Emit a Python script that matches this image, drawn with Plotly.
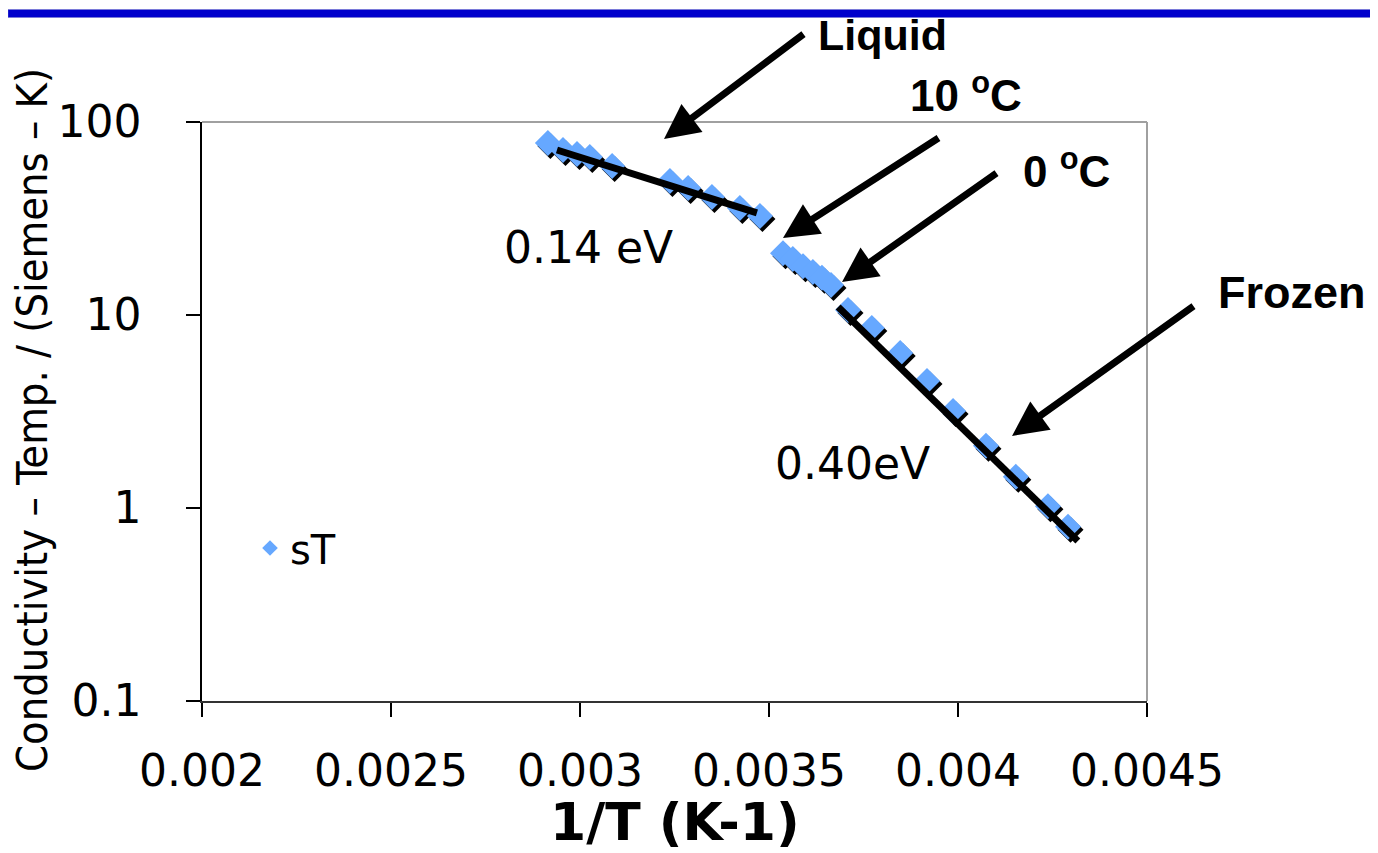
import plotly.graph_objects as go

# ---------------- data ----------------
inv_T = [0.002915, 0.002955, 0.002992, 0.003026, 0.003085, 0.003238, 0.003286,
         0.003349, 0.003423, 0.003476,
         0.003537, 0.003563, 0.003590, 0.003616, 0.003640, 0.003664,
         0.003709, 0.003772, 0.003847, 0.003918, 0.003987, 0.004074, 0.004153,
         0.004238, 0.004291]
sigma_T = [77.8, 71.6, 68.3, 65.9, 59.2, 49.5, 45.5, 40.9, 35.8, 32.6,
           20.9, 19.5, 17.9, 16.7, 15.6, 14.3,
           10.6, 8.57, 6.36, 4.55, 3.18, 2.10, 1.45, 1.02, 0.80]

liquid_fit_x = [0.002939, 0.003468]
liquid_fit_y = [71.6, 33.8]
frozen_fit_x = [0.003683, 0.004317]
frozen_fit_y = [11.0, 0.675]

x_ticks = [0.002, 0.0025, 0.003, 0.0035, 0.004, 0.0045]
x_ticktext = ["0.002", "0.0025", "0.003", "0.0035", "0.004", "0.0045"]
y_ticks = [0.1, 1, 10, 100]
y_ticktext = ["0.1", "1", "10", "100"]

# ---------------- layout helpers ----------------
PAGE_W, PAGE_H = 1378, 853
BODY = 8  # default page body margin
W, H = PAGE_W - BODY, PAGE_H - BODY
L, R, T, B = 202, 1147, 122, 701          # plot area in page pixels
PW, PH = R - L, B - T


def px_x(px):
    return (px - L) / PW


def px_y(py):
    return (B - py) / PH


BLUE = "#66A8FF"
VERDANA = "DejaVu Sans, Verdana, sans-serif"
ARIAL = "Liberation Sans, Arial, sans-serif"
NARROW = "Liberation Sans Narrow, Arial Narrow, DejaVu Sans Condensed, sans-serif"

fig = go.Figure()

# marker shadow (offset a few pixels right/down)
dx = 2.5 / PW * (0.0045 - 0.002)
dy = 10 ** (-3.0 / PH * 3)
fig.add_trace(go.Scatter(
    x=[v + dx for v in inv_T], y=[v * dy for v in sigma_T], mode="markers",
    marker=dict(symbol="diamond", size=20, color="black", line=dict(width=0)),
    showlegend=False, hoverinfo="skip"))

fig.add_trace(go.Scatter(
    x=inv_T, y=sigma_T, mode="markers", name="sT",
    marker=dict(symbol="diamond", size=20, color=BLUE, line=dict(width=0))))

fig.add_trace(go.Scatter(x=liquid_fit_x, y=liquid_fit_y, mode="lines",
                         line=dict(color="black", width=7), showlegend=False))
fig.add_trace(go.Scatter(x=frozen_fit_x, y=frozen_fit_y, mode="lines",
                         line=dict(color="black", width=7), showlegend=False))

fig.update_layout(
    width=W, height=H,
    margin=dict(l=L - BODY, r=PAGE_W - R, t=T - BODY, b=PAGE_H - B, pad=0,
                autoexpand=False),
    paper_bgcolor="white", plot_bgcolor="white",
    showlegend=True,
    legend=dict(x=px_x(250), y=px_y(548), xanchor="left", yanchor="middle",
                font=dict(family=VERDANA, size=40, color="black"),
                bgcolor="rgba(0,0,0,0)", itemsizing="constant"),
    xaxis=dict(range=[0.002, 0.0045], tickvals=x_ticks, ticktext=x_ticktext,
               automargin=False,
               showgrid=False, zeroline=False, showline=True, linecolor="#333333",
               linewidth=2, ticks="outside", ticklen=14, tickwidth=1.5,
               tickcolor="black", ticklabelstandoff=16,
               tickfont=dict(family=VERDANA, size=44, color="black")),
    yaxis=dict(type="log", range=[-1, 2], tickvals=y_ticks, ticktext=y_ticktext,
               automargin=False,
               showgrid=False, zeroline=False, showline=True, linecolor="black",
               linewidth=1.5, ticks="outside", ticklen=14, tickwidth=1.5,
               tickcolor="black", ticklabelstandoff=36,
               tickfont=dict(family=VERDANA, size=44, color="black")),
)

shapes = [
    # header bar
    dict(type="rect", xref="paper", yref="paper", x0=px_x(BODY), x1=px_x(PAGE_W),
         y0=px_y(17.5), y1=px_y(9.5), fillcolor="#0000CC",
         line=dict(color="#7777CC", width=0.5), layer="below"),
    # top/right frame in grey
    dict(type="line", xref="paper", yref="paper", x0=0, x1=1, y0=1, y1=1,
         line=dict(color="#A0A0A0", width=2)),
    dict(type="line", xref="paper", yref="paper", x0=1, x1=1, y0=0, y1=1,
         line=dict(color="#A0A0A0", width=2)),
]
fig.update_layout(shapes=shapes)

ann = []
# y-axis title
ann.append(dict(text="Conductivity – Temp. / (Siemens – K)", textangle=-90,
                xref="paper", yref="paper", x=px_x(32), y=px_y(420),
                xanchor="center", yanchor="middle", showarrow=False,
                font=dict(family=NARROW, size=43, color="black")))
# x-axis title
ann.append(dict(text="<b>1/T (K-1)</b>", xref="paper", yref="paper",
                x=px_x(675), y=px_y(822), xanchor="center", yanchor="middle",
                showarrow=False,
                font=dict(family=VERDANA, size=52, color="black")))


def label(txt, cx, cy, fam, size, bold=False):
    t = f"<b>{txt}</b>" if bold else txt
    ann.append(dict(text=t, xref="paper", yref="paper", x=px_x(cx), y=px_y(cy),
                    xanchor="center", yanchor="middle", showarrow=False,
                    font=dict(family=fam, size=size, color="black")))


label("Liquid", 882, 35, ARIAL, 43, True)
label("10 <sup>o</sup>C", 966, 93, ARIAL, 44, True)
label("0 <sup>o</sup>C", 1066, 168, ARIAL, 44, True)
label("Frozen", 1292, 292, ARIAL, 45, True)
label("0.14 eV", 588, 247, VERDANA, 44)
label("0.40eV", 852, 463, VERDANA, 44)


def arrow(hx, hy, tx, ty):
    ann.append(dict(text="", xref="paper", yref="paper", x=px_x(hx), y=px_y(hy),
                    ax=tx - hx, ay=ty - hy, showarrow=True, arrowhead=2,
                    arrowsize=1.0, arrowwidth=7, arrowcolor="black", standoff=0))


arrow(664, 139, 805, 33)
arrow(783, 238, 940, 137)
arrow(842, 282, 998, 172)
arrow(1012, 436, 1195, 305)

fig.update_layout(annotations=ann)

fig.write_html("out.html")
